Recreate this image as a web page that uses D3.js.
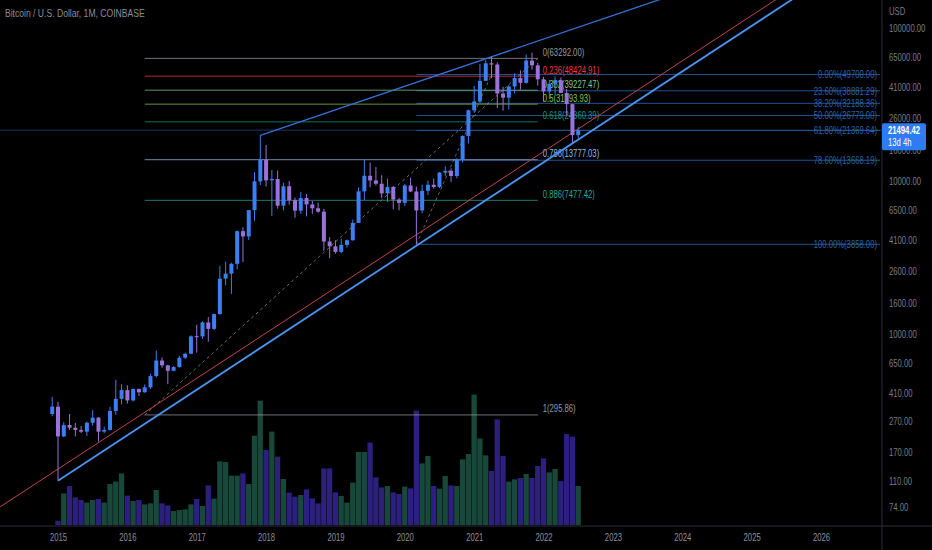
<!DOCTYPE html>
<html>
<head>
<meta charset="utf-8">
<script src="https://cdn.jsdelivr.net/npm/d3@7"></script>
<style>
  body { margin: 0; background: #000; }
  svg { display: block; font-family: "Liberation Sans", Arial, sans-serif; }
</style>
</head>
<body>
<svg id="chart" width="932" height="550"></svg>
<script>
// month index: 0 = Jan 2015, -1 = Dec 2014
const months = d3.range(-1, 91);

const opens = [300,335,214,254,244,236,230,263,284,230,236,314,377,
  430,368,437,416,448,531,671,624,575,608,700,743,
  968,965,1190,1080,1350,2300,2480,2875,4700,4340,6450,9950,
  13800,10100,10300,6900,9240,7500,6400,7730,7030,6630,6300,4020,
  3740,3440,3820,4100,5320,8560,10820,10080,9600,8300,9150,7560,
  7200,9350,8540,6420,8630,9450,9140,11350,11650,10780,13800,19700,
  28990,33100,45140,58790,57720,37300,35040,41460,47130,43820,61300,57000,
  46200,38500,43180,45530,37640,31800,19940];
const highs = [389,360,265,300,262,250,268,318,286,248,334,502,470,
  462,441,439,468,549,780,704,629,617,720,755,979,
  1150,1211,1290,1355,2790,2980,2920,4750,4980,6470,11400,19891,
  17200,11800,11700,9750,10000,7780,8500,8200,7400,7200,6570,4300,
  4100,4200,4140,5600,9100,13880,13200,12330,10900,10370,9270,7750,
  9580,10500,9190,9470,10070,10380,11440,12480,12080,14100,19900,29300,
  41950,58350,61800,64900,59600,41300,42400,50500,52900,67000,69000,59100,
  47950,45800,48240,47500,40000,31950,22500];
const lows = [290,110,212,236,214,225,216,251,198,225,234,297,347,
  351,362,393,413,437,520,602,470,571,604,686,737,
  756,930,890,1060,1340,2080,1830,2650,2950,4110,5500,9400,
  9200,5900,6600,6430,7000,5750,6100,5880,6100,6200,3500,3130,
  3350,3380,3670,4070,5320,7500,9100,9320,7730,7300,6520,6430,
  6870,8450,3858,6150,8120,8900,8990,10800,9880,10400,13200,17600,
  28000,32300,45000,47000,30000,28800,29300,37300,39600,43300,53300,42000,
  32950,34300,37200,37700,26700,17600,18900];
const closes = [335,214,254,244,236,230,263,284,230,236,314,377,430,
  368,437,416,448,531,671,624,575,608,700,743,964,
  965,1190,1080,1350,2300,2480,2875,4700,4340,6450,9950,13800,
  10100,10300,6900,9240,7500,6400,7730,7030,6630,6300,4020,3740,
  3440,3820,4100,5320,8560,10820,10080,9600,8300,9150,7560,7200,
  9350,8540,6420,8630,9450,9140,11350,11650,10780,13800,19700,28990,
  33100,45140,58790,57720,37300,35040,41460,47130,43820,61300,57000,46200,
  38500,43180,45530,37640,31800,19940,21494.42];
// monthly volume, thousands of BTC
const volumes = [0,34,253,312,221,200,179,200,208,179,328,347,413,
  235,192,200,165,173,280,173,157,112,120,125,165,
  208,152,317,211,509,504,395,395,413,328,715,995,
  600,747,547,368,259,227,240,285,213,173,453,453,
  261,232,179,339,584,584,659,381,301,312,261,248,
  307,293,915,493,552,312,291,392,317,312,525,568,
  1043,691,557,432,845,552,347,365,376,408,376,472,
  533,421,448,352,728,707,312];

const priceTicks = [100000,65000,41000,26000,16000,10000,6500,4100,2600,1600,1000,650,410,270,170,110,74];
const yearTicks = d3.range(0, 133, 12);
const lastPrice = 21494.42;

// fib retracement drawn from the 2016 low to the 2021 top
const fibALevels = [0,0.236,0.382,0.5,0.618,0.786,0.886,1];
const fibAColors = ["#9598a1","#f23645","#81c784","#8bc34a","#089981","#8fbbe8","#26a69a","#9598a1"];
const fibAPoints = [[15,295.86],[83,63292]];
// second fib from the March 2020 low
const fibBLevels = [0,0.236,0.382,0.5,0.618,0.786,1];
const fibBPoints = [[62,3858],[75,49700]];

// trend lines: [monthIndex, price] pairs
const upperLine = [[35,19891],[75,64900]];
const lowerLine = [[0,110],[89,17600]];
const redLine = [[0,131],[90,21900]];

const W = 932, H = 550, axisX = 882, axisY = 526;
const svg = d3.select("#chart");
svg.append("rect").attr("width", W).attr("height", H).attr("fill", "#000");

const x = d3.scaleLinear().domain([0, 132]).range([58, 821]);
const y = d3.scaleLog().domain([100000, 10]).range([28, 28 + 4 * 153]);
const yVol = d3.scaleLinear().domain([0, 1000]).range([525, 400]);

svg.append("clipPath").attr("id", "plot")
  .append("rect").attr("width", axisX).attr("height", axisY);
const g = svg.append("g").attr("clip-path", "url(#plot)");

const upCol = "#3d7ef2", downCol = "#9a72dc";

// volume
g.selectAll("rect.vol")
  .data(months)
  .enter().append("rect")
  .attr("x", (m) => x(m) - 2.7)
  .attr("width", 5.3)
  .attr("y", (m, i) => yVol(volumes[i]))
  .attr("height", (m, i) => yVol(0) - yVol(volumes[i]))
  .attr("fill", (m, i) => closes[i] >= opens[i] ? "#17483a" : "#2c1f7e");

// last price line
g.append("line")
  .attr("x1", 0).attr("x2", axisX)
  .attr("y1", y(lastPrice)).attr("y2", y(lastPrice))
  .attr("stroke", "#1c3566").attr("stroke-width", 1);

// fib B (extends right)
const bHi = fibBPoints[1][1], bLo = fibBPoints[0][1];
fibBLevels.forEach(function(lv) {
  const p = bHi - lv * (bHi - bLo);
  g.append("line")
    .attr("x1", x(fibBPoints[0][0])).attr("x2", 880)
    .attr("y1", y(p)).attr("y2", y(p))
    .attr("stroke", "#1f5394").attr("stroke-width", 1);
  g.append("text")
    .attr("x", 877).attr("y", y(p)).attr("dy", "0.35em")
    .attr("text-anchor", "end")
    .attr("font-size", 11).attr("fill", "#2b62a8")
    .text((lv * 100).toFixed(2) + "%(" + p.toFixed(2) + ")");
});
g.append("line")
  .attr("x1", x(fibBPoints[0][0])).attr("y1", y(fibBPoints[0][1]))
  .attr("x2", x(fibBPoints[1][0])).attr("y2", y(fibBPoints[1][1]))
  .attr("stroke", "#8a8d96").attr("stroke-dasharray", "3,3").attr("stroke-opacity", 0.7);

// fib A
const aHi = fibAPoints[1][1], aLo = fibAPoints[0][1];
fibALevels.forEach(function(lv, i) {
  const p = aHi - lv * (aHi - aLo);
  g.append("line")
    .attr("x1", x(fibAPoints[0][0])).attr("x2", x(fibAPoints[1][0]))
    .attr("y1", y(p)).attr("y2", y(p))
    .attr("stroke", fibAColors[i]).attr("stroke-opacity", 0.75).attr("stroke-width", 1);
  g.append("text")
    .attr("x", x(fibAPoints[1][0]) + 5).attr("y", y(p) - 2.5)
    .attr("font-size", 11).attr("fill", fibAColors[i])
    .text(lv + "(" + p.toFixed(2) + ")");
});
g.append("line")
  .attr("x1", x(fibAPoints[0][0])).attr("y1", y(fibAPoints[0][1]))
  .attr("x2", x(fibAPoints[1][0])).attr("y2", y(fibAPoints[1][1]))
  .attr("stroke", "#9598a1").attr("stroke-dasharray", "3,3").attr("stroke-opacity", 0.7);

// trend lines, extended through the plot
function trend(pts, extendLeft) {
  const x1 = x(pts[0][0]), y1 = y(pts[0][1]);
  const x2 = x(pts[1][0]), y2 = y(pts[1][1]);
  const k = (y2 - y1) / (x2 - x1);
  const xs = extendLeft ? -10 : x1, xe = 1000;
  return [xs, y1 + k * (xs - x1), xe, y1 + k * (xe - x1)];
}
[[redLine, true, "#c0434e", 1], [upperLine, false, "#3470d6", 1.3], [lowerLine, false, "#4b93f2", 1.8]]
  .forEach(function(t) {
    const c = trend(t[0], t[1]);
    g.append("line")
      .attr("x1", c[0]).attr("y1", c[1]).attr("x2", c[2]).attr("y2", c[3])
      .attr("stroke", t[2]).attr("stroke-width", t[3]);
  });

// candles
const candle = g.selectAll("g.candle")
  .data(months)
  .enter().append("g");
candle.append("line")
  .attr("x1", (m) => x(m)).attr("x2", (m) => x(m))
  .attr("y1", (m, i) => y(highs[i])).attr("y2", (m, i) => y(lows[i]))
  .attr("stroke", (m, i) => closes[i] >= opens[i] ? upCol : downCol);
candle.append("rect")
  .attr("x", (m) => x(m) - 2)
  .attr("width", 4)
  .attr("y", (m, i) => y(Math.max(opens[i], closes[i])))
  .attr("height", (m, i) => Math.max(1, y(Math.min(opens[i], closes[i])) - y(Math.max(opens[i], closes[i]))))
  .attr("fill", (m, i) => closes[i] >= opens[i] ? upCol : downCol);

// axes
svg.append("line").attr("x1", axisX).attr("x2", axisX).attr("y1", 0).attr("y2", H)
  .attr("stroke", "#2a2e39");
svg.append("line").attr("x1", 0).attr("x2", W).attr("y1", axisY).attr("y2", axisY)
  .attr("stroke", "#2a2e39");

const yAxis = d3.axisRight(y).tickValues(priceTicks).tickSize(0).tickPadding(7)
  .tickFormat((d) => d.toFixed(2));
const ya = svg.append("g").attr("transform", "translate(" + axisX + ",0)").call(yAxis)
  .attr("font-family", null);
ya.select(".domain").remove();
ya.selectAll("text").attr("fill", "#787b86").attr("font-size", 11);

const xAxis = d3.axisBottom(x).tickValues(yearTicks).tickSize(0).tickPadding(7)
  .tickFormat((d) => 2015 + d / 12);
const xa = svg.append("g").attr("transform", "translate(0," + axisY + ")").call(xAxis)
  .attr("font-family", null);
xa.select(".domain").remove();
xa.selectAll("text").attr("fill", "#8c8f99").attr("font-size", 11);

svg.append("text").attr("x", 889).attr("y", 15).attr("fill", "#787b86")
  .attr("font-size", 11).text("USD");

// last price tag
const ty = y(lastPrice);
svg.append("rect").attr("x", axisX).attr("y", ty - 7).attr("width", 44).attr("height", 27)
  .attr("rx", 2).attr("fill", "#2f7bf3");
svg.append("text").attr("x", 888).attr("y", ty + 4).attr("fill", "#fff")
  .attr("font-size", 11).attr("font-weight", "bold").text(lastPrice.toFixed(2));
svg.append("text").attr("x", 888).attr("y", ty + 16).attr("fill", "#fff")
  .attr("font-size", 11).text("13d 4h");

// title
svg.append("text").attr("class", "title").attr("x", 5).attr("y", 17).attr("fill", "#8b8e97")
  .attr("font-size", 11).text("Bitcoin / U.S. Dollar, 1M, COINBASE");

// the chart font is a condensed face: squeeze every label horizontally
// around its anchor point
svg.selectAll("text").each(function() {
  const f = d3.select(this).classed("title") ? 0.78 : 0.7;
  const x0 = +this.getAttribute("x") || 0;
  d3.select(this).attr("transform",
    "translate(" + x0 + ",0) scale(" + f + ",1) translate(" + (-x0) + ",0)");
});
</script>
</body>
</html>
